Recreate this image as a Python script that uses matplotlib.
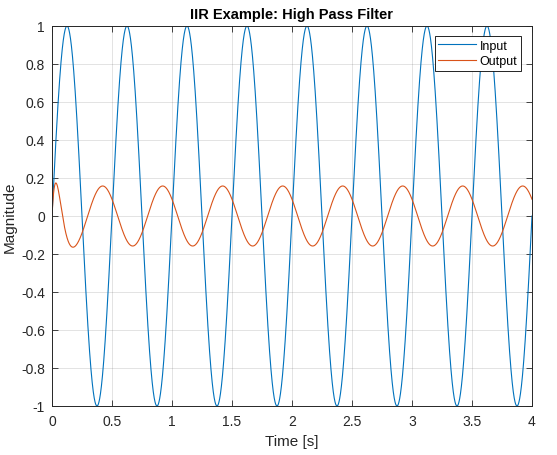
import numpy as np
import matplotlib
matplotlib.use("Agg")
import matplotlib.pyplot as plt
from matplotlib.ticker import FormatStrFormatter

# Signal / filter parameters
sample_rate = 1000.0      # Hz
duration = 4.0            # s
input_freq = 2.0          # Hz (period 0.5 s)
input_amp = 1.0
cutoff = 5.0              # Hz, 2nd-order Butterworth high pass
x_ticks = [0, 0.5, 1, 1.5, 2, 2.5, 3, 3.5, 4]
y_ticks = [-1, -0.8, -0.6, -0.4, -0.2, 0, 0.2, 0.4, 0.6, 0.8, 1]
series_names = ["Input", "Output"]

t = np.arange(0, duration + 1 / sample_rate / 2, 1 / sample_rate)
x = input_amp * np.sin(2 * np.pi * input_freq * t)

K = np.tan(np.pi * cutoff / sample_rate)
norm = 1.0 / (1 + np.sqrt(2) * K + K * K)
b = [norm, -2 * norm, norm]
a = [1.0, 2 * (K * K - 1) * norm, (1 - np.sqrt(2) * K + K * K) * norm]
y = np.zeros_like(x)
for n in range(len(x)):
    acc = b[0] * x[n]
    if n >= 1:
        acc += b[1] * x[n - 1] - a[1] * y[n - 1]
    if n >= 2:
        acc += b[2] * x[n - 2] - a[2] * y[n - 2]
    y[n] = acc

plt.rcParams['font.family'] = ['Liberation Sans', 'DejaVu Sans']
fig = plt.figure(figsize=(5.57, 4.56), dpi=100)
ax = fig.add_axes([52 / 557, 1 - 407 / 456, 480 / 557, 380 / 456])
ax.plot(t, x, color='#0072BD', lw=0.8, label=series_names[0])
ax.plot(t, y, color='#D95319', lw=0.8, label=series_names[1])
ax.set_xlim(0, 4)
ax.set_ylim(-1, 1)
ax.set_xticks(x_ticks)
ax.set_yticks(y_ticks)
ax.xaxis.set_major_formatter(FormatStrFormatter('%g'))
ax.yaxis.set_major_formatter(FormatStrFormatter('%g'))
ax.grid(True, color='#262626', alpha=0.15, lw=0.6)
ax.tick_params(direction='in', length=4, width=0.6, colors='#262626',
               labelsize=10, top=True, right=True)
ax.tick_params(axis='x', pad=6)
ax.tick_params(axis='y', pad=5)
for s in ax.spines.values():
    s.set_color('#262626')
    s.set_linewidth(0.7)
ax.set_xlabel('Time [s]', fontsize=11, color='#262626', labelpad=4)
ax.set_ylabel('Magnitude', fontsize=11, color='#262626', labelpad=3)
ax.set_title('IIR Example: High Pass Filter', fontsize=10.5, fontweight='bold',
             color='black', pad=6)
leg = ax.legend(loc='upper right', fontsize=9, fancybox=False, framealpha=1,
                edgecolor='black', borderpad=0.3, handlelength=3.0,
                handletextpad=0.3, labelspacing=0.3,
                bbox_to_anchor=(1 - 11 / 480, 1 - 10 / 380), borderaxespad=0)
leg.get_frame().set_linewidth(0.6)
for txt in leg.get_texts():
    txt.set_color('black')
fig.savefig('out.png', dpi=100)
